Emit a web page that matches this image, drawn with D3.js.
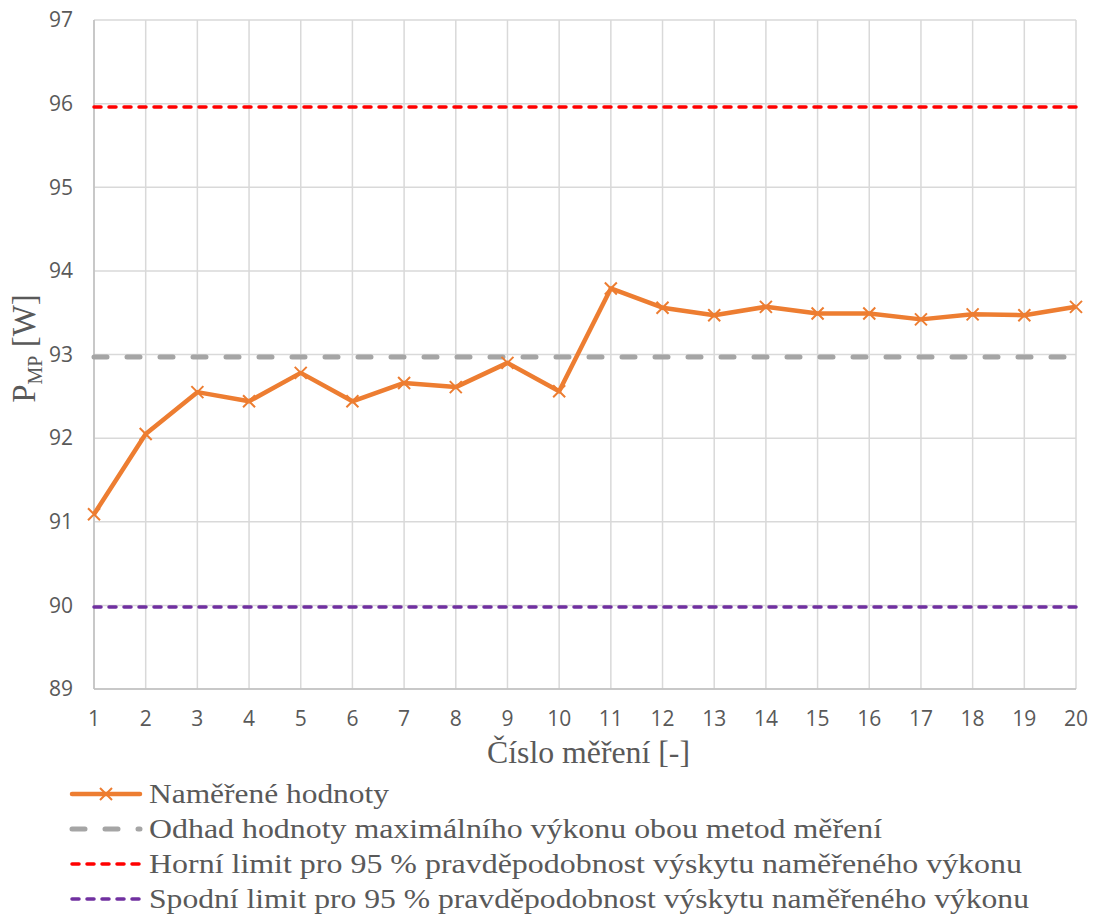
<!DOCTYPE html>
<html><head><meta charset="utf-8">
<script src="https://cdn.jsdelivr.net/npm/d3@7"></script>
<style>body{margin:0;background:#fff}</style>
</head><body>
<script>
const categories = d3.range(1, 21);
const measured = [91.09,92.05,92.55,92.44,92.78,92.44,92.66,92.61,92.90,92.56,93.79,93.56,93.47,93.57,93.49,93.49,93.42,93.48,93.47,93.57];
const estimate = 92.97;
const upperLimit = 95.96;
const lowerLimit = 89.98;
const yTicks = [89,90,91,92,93,94,95,96,97];
const legendLabels = [
  "Naměřené hodnoty",
  "Odhad hodnoty maximálního výkonu obou metod měření",
  "Horní limit pro 95 % pravděpodobnost výskytu naměřeného výkonu",
  "Spodní limit pro 95 % pravděpodobnost výskytu naměřeného výkonu"
];
const legendWidths = [240, 733, 873, 880];

const W = 1098, H = 922;
const svg = d3.select("body").append("svg").attr("width", W).attr("height", H);
const x = d3.scaleLinear().domain([1, 20]).range([94, 1076]);
const y = d3.scaleLinear().domain([89, 97]).range([689, 20]);

const grid = svg.append("g");
yTicks.forEach(t => grid.append("line").attr("x1", x(1)).attr("x2", x(20)).attr("y1", y(t)).attr("y2", y(t))
  .attr("stroke", "#d9d9d9").attr("stroke-width", 1.5));
categories.forEach(c => grid.append("line").attr("x1", x(c)).attr("x2", x(c)).attr("y1", y(97)).attr("y2", y(89))
  .attr("stroke", "#d9d9d9").attr("stroke-width", 1.5));
svg.append("line").attr("x1", x(1)).attr("x2", x(1)).attr("y1", y(97)).attr("y2", y(89)).attr("stroke", "#bfbfbf").attr("stroke-width", 1.5);
svg.append("line").attr("x1", x(1)).attr("x2", x(20)).attr("y1", y(89)).attr("y2", y(89)).attr("stroke", "#bfbfbf").attr("stroke-width", 1.5);

const tickFont = "'Open Sans', sans-serif";
yTicks.forEach(t => svg.append("text").attr("x", 73).attr("y", y(t)).attr("dy", "0.35em")
  .attr("text-anchor", "end").attr("font-family", tickFont).attr("font-size", 21).attr("fill", "#595959").text(t));
categories.forEach(c => svg.append("text").attr("x", x(c)).attr("y", 719).attr("dy", "0.35em")
  .attr("text-anchor", "middle").attr("font-family", tickFont).attr("font-size", 21).attr("fill", "#595959").text(c));

const serif = "'Liberation Serif', 'Times New Roman', serif";
svg.append("text").attr("x", 487).attr("y", 763)
  .attr("font-family", serif).attr("font-size", 31).attr("fill", "#595959")
  .attr("textLength", 203).attr("lengthAdjust", "spacingAndGlyphs").text("Číslo měření [-]");
const yt = svg.append("text").attr("transform", `translate(35, ${(y(97)+y(89))/2 - 6}) rotate(-90)`)
  .attr("text-anchor", "middle").attr("font-family", serif).attr("font-size", 33).attr("fill", "#595959");
yt.append("tspan").text("P");
yt.append("tspan").attr("font-size", 20).attr("dy", 7).text("MP");
yt.append("tspan").attr("dy", -7).text(" [W]");

const grayDash = "13,20", limDash = "7,8";
function hline(v, color, dash, w) {
  svg.append("line").attr("x1", x(1)).attr("x2", x(20)).attr("y1", y(v)).attr("y2", y(v))
    .attr("stroke", color).attr("stroke-width", w).attr("stroke-dasharray", dash).attr("stroke-linecap", "round");
}
hline(estimate, "#a5a5a5", grayDash, 5);
hline(upperLimit, "#ff0000", limDash, 3.5);
hline(lowerLimit, "#7030a0", limDash, 3.5);

const line = d3.line().x((d, i) => x(categories[i])).y(d => y(d));
svg.append("path").datum(measured).attr("d", line).attr("fill", "none")
  .attr("stroke", "#ed7d31").attr("stroke-width", 4.5).attr("stroke-linejoin", "round");
const m = 6;
measured.forEach((v, i) => {
  const cx = x(categories[i]), cy = y(v);
  svg.append("path").attr("d", `M${cx-m},${cy-m}L${cx+m},${cy+m}M${cx-m},${cy+m}L${cx+m},${cy-m}`)
    .attr("stroke", "#ed7d31").attr("stroke-width", 2);
});

const ly = [794, 829, 864, 899];
const lg = svg.append("g");
lg.append("line").attr("x1", 72).attr("x2", 140).attr("y1", ly[0]).attr("y2", ly[0]).attr("stroke", "#ed7d31").attr("stroke-width", 4.5).attr("stroke-linecap", "round");
lg.append("path").attr("d", `M${106-m},${ly[0]-m}L${106+m},${ly[0]+m}M${106-m},${ly[0]+m}L${106+m},${ly[0]-m}`).attr("stroke", "#ed7d31").attr("stroke-width", 2);
lg.append("line").attr("x1", 72).attr("x2", 140).attr("y1", ly[1]).attr("y2", ly[1]).attr("stroke", "#a5a5a5").attr("stroke-width", 5).attr("stroke-dasharray", grayDash).attr("stroke-linecap", "round");
lg.append("line").attr("x1", 72).attr("x2", 140).attr("y1", ly[2]).attr("y2", ly[2]).attr("stroke", "#ff0000").attr("stroke-width", 3.5).attr("stroke-dasharray", limDash).attr("stroke-linecap", "round");
lg.append("line").attr("x1", 72).attr("x2", 140).attr("y1", ly[3]).attr("y2", ly[3]).attr("stroke", "#7030a0").attr("stroke-width", 3.5).attr("stroke-dasharray", limDash).attr("stroke-linecap", "round");
legendLabels.forEach((t, i) => lg.append("text").attr("x", 149).attr("y", ly[i]).attr("dy", "0.33em")
  .attr("font-family", serif).attr("font-size", 27).attr("fill", "#595959")
  .attr("textLength", legendWidths[i]).attr("lengthAdjust", "spacingAndGlyphs").text(t));
</script>
</body></html>
